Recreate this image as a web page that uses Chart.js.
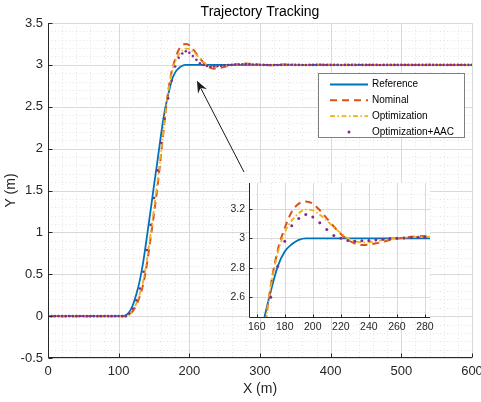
<!DOCTYPE html>
<html>
<head>
<meta charset="utf-8">
<title>Trajectory Tracking</title>
<script src="https://cdn.jsdelivr.net/npm/chart.js@4.4.1/dist/chart.umd.min.js"></script>
<style>
  html, body { margin: 0; padding: 0; background: #fff; }
  #wrap { position: relative; width: 481px; height: 402px; overflow: hidden; }
  #main { position: absolute; left: 0; top: 0; }
  #inset { position: absolute; left: 220px; top: 176px; }
</style>
</head>
<body>
<div id="wrap">
  <canvas id="main" width="481" height="402"></canvas>
  <canvas id="inset" width="220" height="166"></canvas>
</div>
<script>
'use strict';

// sample positions along X (m)
const xPos = [
  0, 5, 10, 15, 20, 25, 30, 35, 40, 45, 50, 55, 60, 65, 70, 75, 80, 85, 90, 95,
  100, 105, 110, 115, 120, 125, 130, 135, 140, 145, 150, 155, 160, 165, 170, 175, 180, 185, 190, 195,
  200, 205, 210, 215, 220, 225, 230, 235, 240, 245, 250, 255, 260, 265, 270, 275, 280, 285, 290, 295,
  300, 305, 310, 315, 320, 325, 330, 335, 340, 345, 350, 355, 360, 365, 370, 375, 380, 385, 390, 395,
  400, 405, 410, 415, 420, 425, 430, 435, 440, 445, 450, 455, 460, 465, 470, 475, 480, 485, 490, 495,
  500, 505, 510, 515, 520, 525, 530, 535, 540, 545, 550, 555, 560, 565, 570, 575, 580, 585, 590, 595,
  600,
];

const referenceY = [
  0, 0, 0, 0, 0, 0, 0, 0, 0, 0, 0, 0, 0, 0, 0, 0, 0, 0, 0, 0,
  0, 0, 0.01, 0.05, 0.13, 0.26, 0.43, 0.66, 0.95, 1.25, 1.56, 1.86, 2.17, 2.44, 2.64, 2.81, 2.91, 2.96, 2.99, 3,
  3, 3, 3, 3, 3, 3, 3, 3, 3, 3, 3, 3, 3, 3, 3, 3, 3, 3, 3, 3,
  3, 3, 3, 3, 3, 3, 3, 3, 3, 3, 3, 3, 3, 3, 3, 3, 3, 3, 3, 3,
  3, 3, 3, 3, 3, 3, 3, 3, 3, 3, 3, 3, 3, 3, 3, 3, 3, 3, 3, 3,
  3, 3, 3, 3, 3, 3, 3, 3, 3, 3, 3, 3, 3, 3, 3, 3, 3, 3, 3, 3,
  3,
];

const nominalY = [
  0, 0, 0, 0, 0, 0, 0, 0, 0, 0, 0, 0, 0, 0, 0, 0, 0, 0, 0, 0,
  0, 0, 0, 0.02, 0.06, 0.13, 0.24, 0.39, 0.62, 0.92, 1.22, 1.55, 1.93, 2.33, 2.68, 2.92, 3.07, 3.18, 3.235, 3.25,
  3.235, 3.19, 3.135, 3.08, 3.03, 2.99, 2.965, 2.955, 2.958, 2.966, 2.977, 2.988, 2.998, 3.005, 3.01, 3.013, 3.015, 3.013, 3.01, 3.005,
  3, 2.997, 2.995, 2.995, 2.997, 3, 3.002, 3.003, 3.003, 3.002, 3, 2.999, 2.998, 2.998, 2.999, 3, 3.001, 3.002, 3.002, 3.001,
  3, 2.999, 2.999, 3, 3, 3.001, 3.001, 3, 3, 2.999, 3, 3, 3.001, 3, 3, 3, 2.999, 3, 3, 3.001,
  3, 3, 3, 3, 2.999, 3, 3, 3, 3.001, 3, 3, 3, 3, 3, 3, 3, 3, 3, 3, 3,
  3,
];

const optimizationY = [
  0, 0, 0, 0, 0, 0, 0, 0, 0, 0, 0, 0, 0, 0, 0, 0, 0, 0, 0, 0,
  0, 0, 0, 0.02, 0.07, 0.15, 0.27, 0.43, 0.67, 0.97, 1.28, 1.61, 1.96, 2.34, 2.67, 2.9, 3.04, 3.12, 3.17, 3.195,
  3.19, 3.16, 3.12, 3.075, 3.035, 3, 2.98, 2.972, 2.974, 2.98, 2.988, 2.995, 3, 3.004, 3.007, 3.009, 3.01, 3.009, 3.006, 3.003,
  3, 2.998, 2.997, 2.997, 2.998, 3, 3.001, 3.002, 3.002, 3.001, 3, 2.999, 2.999, 2.999, 3, 3, 3.001, 3.001, 3.001, 3,
  3, 3, 2.999, 3, 3, 3, 3.001, 3, 3, 3, 3, 2.999, 3, 3, 3, 3, 3, 3.001, 3, 3,
  3, 3, 3, 3, 3, 2.999, 3, 3, 3, 3, 3, 3, 3, 3, 3, 3, 3, 3, 3, 3,
  3,
];

const aacY = [
  0, 0, 0, 0, 0, 0, 0, 0, 0, 0, 0, 0, 0, 0, 0, 0, 0, 0, 0, 0,
  0, 0, 0, 0.03, 0.09, 0.19, 0.33, 0.53, 0.79, 1.09, 1.41, 1.74, 2.07, 2.36, 2.6, 2.81, 2.98, 3.085, 3.135, 3.162,
  3.145, 3.105, 3.06, 3.02, 3, 2.986, 2.981, 2.983, 2.986, 2.99, 2.994, 2.998, 3, 3.003, 3.005, 3.007, 3.008, 3.007, 3.005, 3.003,
  3.001, 3, 2.999, 2.998, 2.998, 2.999, 3, 3.001, 3.001, 3.001, 3, 3, 2.999, 2.999, 3, 3, 3, 3.001, 3, 3,
  3, 3, 3, 2.999, 3, 3, 3, 3, 3.001, 3, 3, 3, 3, 3, 2.999, 3, 3, 3, 3, 3,
  3, 3, 3, 3, 3, 3, 3, 3, 3, 3, 3, 3, 3, 3, 3, 3, 3, 3, 3, 3,
  3,
];

const seriesNames = ['Reference', 'Nominal', 'Optimization', 'Optimization+AAC'];
const xTicks = [0, 100, 200, 300, 400, 500, 600];
const yTicks = [-0.5, 0, 0.5, 1, 1.5, 2, 2.5, 3, 3.5];
const insetXTicks = [160, 180, 200, 220, 240, 260, 280];
const insetYTicks = [2.6, 2.8, 3, 3.2];

const FONT = '"Liberation Sans", Arial, Helvetica, sans-serif';
const TEXT = '#262626';
const STYLES = [
  { color: '#0072BD', width: 1.8, dash: [] },
  { color: '#D95319', width: 2, dash: [7, 5] },
  { color: '#EDB120', width: 1.8, dash: [5, 2.5, 1.5, 2.5] },
  { color: '#7E2F8E', dot: true },
];

function points(ys) {
  return xPos.map((x, i) => ({ x, y: ys[i] }));
}

function buildDatasets(dotRadius) {
  return [referenceY, nominalY, optimizationY, aacY].map((ys, i) => {
    const st = STYLES[i];
    const base = { label: seriesNames[i], data: points(ys), order: 4 - i };
    if (st.dot) {
      return { ...base, showLine: false, pointRadius: dotRadius, pointBackgroundColor: st.color, pointBorderWidth: 0 };
    }
    return {
      ...base, borderColor: st.color, borderWidth: st.width, borderDash: st.dash,
      pointRadius: 0, fill: false, cubicInterpolationMode: 'monotone',
    };
  });
}

function stepValues(min, max, step) {
  const out = [];
  for (let k = Math.ceil(min / step - 1e-9); k * step <= max + 1e-9; k++) out.push(k * step);
  return out;
}

// MATLAB-ish axes: solid major grid, dotted minor grid, inward ticks
const matlabAxes = {
  id: 'matlabAxes',
  beforeDatasetsDraw(chart, args, opts) {
    const { ctx, chartArea: a, scales: { x, y } } = chart;
    ctx.save();
    if (opts.background) {
      ctx.fillStyle = opts.background;
      ctx.fillRect(a.left, a.top, a.right - a.left, a.bottom - a.top);
    }
    ctx.lineWidth = 1;
    const vline = v => { const p = Math.round(x.getPixelForValue(v)) + 0.5; ctx.moveTo(p, a.top); ctx.lineTo(p, a.bottom); };
    const hline = v => { const p = Math.round(y.getPixelForValue(v)) + 0.5; ctx.moveTo(a.left, p); ctx.lineTo(a.right, p); };
    ctx.strokeStyle = '#e2e2e2';
    ctx.setLineDash([1, 2.5]);
    ctx.beginPath();
    stepValues(x.min, x.max, opts.minorX).forEach(vline);
    stepValues(y.min, y.max, opts.minorY).forEach(hline);
    ctx.stroke();
    ctx.strokeStyle = '#dadada';
    ctx.setLineDash([]);
    ctx.beginPath();
    x.ticks.forEach(t => vline(t.value));
    y.ticks.forEach(t => hline(t.value));
    if (opts.edgeLines) { hline(y.max); vline(x.max); }
    ctx.stroke();
    ctx.restore();
  },
  afterDatasetsDraw(chart, args, opts) {
    const { ctx, chartArea: a, scales: { x, y } } = chart;
    const left = Math.round(a.left) + 0.5;
    const bottom = Math.round(a.bottom) - 0.5;
    ctx.save();
    ctx.strokeStyle = TEXT;
    ctx.lineWidth = 1;
    ctx.beginPath();
    ctx.moveTo(left, a.top);
    ctx.lineTo(left, bottom);
    ctx.lineTo(a.right, bottom);
    x.ticks.forEach(t => {
      const p = Math.round(x.getPixelForValue(t.value)) + 0.5;
      ctx.moveTo(p, bottom);
      ctx.lineTo(p, bottom - opts.tickLen);
    });
    y.ticks.forEach(t => {
      const p = Math.round(y.getPixelForValue(t.value)) + 0.5;
      ctx.moveTo(left, p);
      ctx.lineTo(left + opts.tickLen, p);
    });
    ctx.stroke();
    ctx.restore();
  },
};

const insetArrow = {
  id: 'insetArrow',
  afterDatasetsDraw(chart, args, opts) {
    const { ctx, scales: { x, y } } = chart;
    const x1 = x.getPixelForValue(opts.from[0]);
    const y1 = y.getPixelForValue(opts.from[1]);
    const x2 = x.getPixelForValue(opts.to[0]);
    const y2 = y.getPixelForValue(opts.to[1]);
    const ang = Math.atan2(y2 - y1, x2 - x1);
    const cos = Math.cos(ang), sin = Math.sin(ang);
    const len = 12, half = 5;
    const bx = x2 - len * cos, by = y2 - len * sin;
    const nx = x2 - len * 0.65 * cos, ny = y2 - len * 0.65 * sin;
    ctx.save();
    ctx.strokeStyle = '#1a1a1a';
    ctx.fillStyle = '#1a1a1a';
    ctx.lineWidth = 1;
    ctx.beginPath();
    ctx.moveTo(x1, y1);
    ctx.lineTo(nx, ny);
    ctx.stroke();
    ctx.beginPath();
    ctx.moveTo(x2, y2);
    ctx.lineTo(bx + half * sin, by - half * cos);
    ctx.lineTo(nx, ny);
    ctx.lineTo(bx - half * sin, by + half * cos);
    ctx.closePath();
    ctx.fill();
    ctx.restore();
  },
};

const boxLegend = {
  id: 'boxLegend',
  afterDraw(chart, args, opts) {
    const { ctx } = chart;
    const b = opts.box;
    ctx.save();
    ctx.fillStyle = '#fff';
    ctx.fillRect(b.left, b.top, b.right - b.left, b.bottom - b.top);
    ctx.strokeStyle = '#808080';
    ctx.lineWidth = 1;
    ctx.strokeRect(b.left + 0.5, b.top + 0.5, b.right - b.left, b.bottom - b.top);
    ctx.font = `10px ${FONT}`;
    ctx.textBaseline = 'middle';
    seriesNames.forEach((name, i) => {
      const st = STYLES[i];
      const cy = b.top + opts.firstRow + i * opts.rowGap;
      if (st.dot) {
        ctx.fillStyle = st.color;
        ctx.beginPath();
        ctx.arc((opts.sampleFrom + opts.sampleTo) / 2, cy, 1.5, 0, Math.PI * 2);
        ctx.fill();
      } else {
        ctx.strokeStyle = st.color;
        ctx.lineWidth = st.width;
        ctx.setLineDash(st.dash);
        ctx.beginPath();
        ctx.moveTo(opts.sampleFrom, cy);
        ctx.lineTo(opts.sampleTo, cy);
        ctx.stroke();
        ctx.setLineDash([]);
      }
      ctx.fillStyle = '#000';
      ctx.fillText(name, opts.textX, cy);
    });
    ctx.restore();
  },
};

const plotTitle = {
  id: 'plotTitle',
  afterDraw(chart, args, opts) {
    const { ctx, chartArea: a } = chart;
    ctx.save();
    ctx.fillStyle = '#000';
    ctx.font = `14px ${FONT}`;
    ctx.textAlign = 'center';
    ctx.textBaseline = 'middle';
    ctx.fillText(opts.text, (a.left + a.right) / 2, opts.y);
    ctx.restore();
  },
};

function axis({ min, max, ticks, size, fontSize, pad, horizontal, title, titlePad }) {
  return {
    type: 'linear',
    min,
    max,
    grid: { display: false, drawTicks: false },
    border: { display: false },
    afterBuildTicks: scale => { scale.ticks = ticks.map(value => ({ value })); },
    afterFit: scale => {
      if (horizontal) {
        scale.height = size;
        scale.paddingLeft = 0;
        scale.paddingRight = 0;
      } else {
        scale.width = size;
        scale.paddingTop = 0;
        scale.paddingBottom = 0;
      }
    },
    ticks: {
      color: TEXT,
      font: { family: FONT, size: fontSize },
      padding: pad,
      autoSkip: false,
      maxRotation: 0,
      minRotation: 0,
      callback: v => String(v),
    },
    title: title
      ? { display: true, text: title, color: TEXT, font: { family: FONT, size: 14 }, padding: titlePad }
      : { display: false },
  };
}

new Chart(document.getElementById('main'), {
  type: 'line',
  data: { datasets: buildDatasets(1.3) },
  options: {
    responsive: false,
    animation: false,
    events: [],
    layout: { padding: { left: 0, right: 9, top: 23, bottom: 0 } },
    plugins: {
      legend: { display: false },
      tooltip: { enabled: false },
      matlabAxes: { minorX: 20, minorY: 0.1, tickLen: 4, edgeLines: true },
      insetArrow: { from: [277.4, 1.72], to: [210.8, 2.81] },
      boxLegend: {
        box: { left: 318, top: 73, right: 464, bottom: 137 },
        firstRow: 11.5, rowGap: 15.8, sampleFrom: 330, sampleTo: 368, textX: 372,
      },
      plotTitle: { text: 'Trajectory Tracking', y: 12 },
    },
    scales: {
      x: axis({ min: 0, max: 600, ticks: xTicks, size: 44, fontSize: 13, pad: 6, horizontal: true,
        title: 'X (m)', titlePad: { top: 0, bottom: 4.6 } }),
      y: axis({ min: -0.5, max: 3.5, ticks: yTicks, size: 48, fontSize: 13, pad: 5, horizontal: false,
        title: 'Y (m)', titlePad: { top: 2.6, bottom: 0 } }),
    },
  },
  plugins: [matlabAxes, insetArrow, boxLegend, plotTitle],
});

new Chart(document.getElementById('inset'), {
  type: 'line',
  data: { datasets: buildDatasets(1.5) },
  options: {
    responsive: false,
    animation: false,
    events: [],
    layout: { padding: { left: 0, right: 10, top: 7, bottom: 0 } },
    plugins: {
      legend: { display: false },
      tooltip: { enabled: false },
      matlabAxes: { minorX: 10, minorY: 0.1, tickLen: 3, background: '#fff' },
    },
    scales: {
      x: axis({ min: 154.5, max: 283.6, ticks: insetXTicks, size: 24, fontSize: 10.5, pad: 2.4, horizontal: true }),
      y: axis({ min: 2.46, max: 3.375, ticks: insetYTicks, size: 29, fontSize: 10.5, pad: 4, horizontal: false }),
    },
  },
  plugins: [matlabAxes],
});
</script>
</body>
</html>
